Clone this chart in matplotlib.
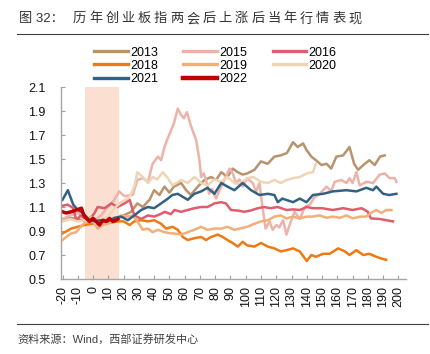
import numpy as np
import matplotlib
matplotlib.use('Agg')
import matplotlib.pyplot as plt
from matplotlib.lines import Line2D

plt.rcParams['font.family'] = ['Liberation Sans', 'Noto Sans CJK SC', 'DejaVu Sans']
plt.rcParams['axes.unicode_minus'] = False

# ---- data: trading days after the NPC sessions vs. relative index level
d2013 = [-20, -15, -10, -5, 0, 5, 10, 14, 20, 25, 29, 32.6, 37, 40, 43.5, 46.8, 50, 53, 57.7, 61, 64, 68.6,
         73, 77.3, 80.6, 84, 88, 91.5, 94.8, 98, 101, 105.7, 110, 114.4, 118.8, 123, 127, 131, 134, 137.6,
         139.8, 143, 146, 149.6, 153, 156, 159.4, 163.8, 168, 171, 173.6, 178, 181, 184.5, 188, 191]
v2013 = [0.99, 1.01, 1.0, 0.98, 1.0, 0.98, 1.0, 0.99, 1.03, 1.06, 1.13, 1.10, 1.16, 1.24, 1.2, 1.27, 1.22,
         1.27, 1.3, 1.24, 1.2, 1.27, 1.325, 1.35, 1.325, 1.39, 1.35, 1.42, 1.39, 1.37, 1.38, 1.41, 1.48, 1.46,
         1.52, 1.53, 1.55, 1.64, 1.6, 1.63, 1.575, 1.52, 1.49, 1.45, 1.46, 1.42, 1.52, 1.53, 1.6, 1.46, 1.41,
         1.46, 1.49, 1.45, 1.52, 1.53]

d2015 = [-20, -15, -10, -5, 1, 5.3, 9.7, 14, 17, 20.6, 26, 29, 32.6, 36, 39, 42.5, 44.6, 46.8, 48.5, 50.5,
         53, 55.5, 57.5, 59.5, 61.5, 64, 67.5, 69.7, 70.8, 72.5, 74, 76, 78, 80.6, 82.8, 86, 89.4, 91.5, 93.7,
         96, 98, 101, 104.6, 106.8, 109, 111, 113, 115.6, 117.7, 120, 122, 124.5, 126.7, 129, 132, 135.4,
         138.7, 142, 145, 148.5, 153, 156, 158.3, 162.7, 166, 168, 170, 172.5, 174.7, 179, 183.4, 187.8, 191,
         194.3, 197.6, 198.7]
v2015 = [1.0, 1.03, 1.05, 1.0, 0.99, 1.03, 1.1, 1.16, 1.23, 1.19, 1.2, 1.325, 1.34, 1.31, 1.46, 1.52, 1.49,
         1.6, 1.66, 1.72, 1.80, 1.92, 1.87, 1.84, 1.89, 1.78, 1.66, 1.49, 1.35, 1.38, 1.325, 1.21, 1.25, 1.17,
         1.24, 1.325, 1.42, 1.38, 1.3, 1.33, 1.27, 1.34, 1.3, 1.23, 1.3, 1.1, 0.92, 0.98, 0.91, 0.95, 0.93, 0.99,
         0.87, 0.96, 1.06, 1.0, 1.1, 1.12, 1.18, 1.21, 1.27, 1.23, 1.31, 1.325, 1.3, 1.34, 1.3, 1.39, 1.28, 1.31,
         1.3, 1.37, 1.38, 1.34, 1.34, 1.31]

d2016 = [-20, -16.5, -13, -11, -8, -3.4, 1, 3, 7.5, 12, 16, 20.6, 24, 27, 31.5, 36, 40, 44, 47, 51, 53.3,
         57.7, 62, 66.4, 70.8, 75, 79.5, 84, 87, 90.4, 95, 99, 103, 108, 112, 116, 121, 126.7, 131, 135.4, 140,
         144, 150, 157, 163.8, 170, 176, 180, 182, 187.8, 192, 196.5]
v2016 = [1.11, 1.12, 1.09, 0.99, 1.03, 0.98, 1.05, 1.1, 1.09, 1.13, 1.1, 1.13, 1.16, 1.03, 1.0, 1.03, 1.02,
         1.04, 1.06, 1.04, 1.075, 1.06, 1.075, 1.09, 1.1, 1.1, 1.13, 1.14, 1.13, 1.075, 1.07, 1.06, 1.07, 1.09,
         1.1, 1.09, 1.1, 1.075, 1.08, 1.075, 1.1, 1.09, 1.09, 1.075, 1.09, 1.075, 1.09, 1.06, 1.005, 1.0, 0.99,
         0.98]

d2018 = [-20, -17, -14.4, -10, -5.6, -1, 3, 7.5, 12, 16.3, 20, 24, 27, 31.5, 36, 40, 44.6, 47.8, 52, 55.5,
         58.8, 62, 66.4, 70.8, 74, 77.3, 81.7, 85, 88, 91.5, 94.8, 98, 101, 105.7, 110, 114.5, 118.8, 123,
         126.7, 131, 135.4, 140, 143, 146, 150.6, 155, 160.5, 165, 168, 172.5, 177, 181, 185.6, 189, 192]
v2018 = [0.88, 0.9, 0.92, 0.935, 0.95, 0.96, 0.96, 0.98, 0.97, 0.98, 0.98, 0.95, 0.98, 0.99, 0.98, 0.99, 0.96,
         0.92, 0.935, 0.91, 0.85, 0.825, 0.84, 0.85, 0.825, 0.85, 0.87, 0.85, 0.825, 0.8, 0.77, 0.81, 0.78, 0.77,
         0.8, 0.77, 0.755, 0.73, 0.74, 0.755, 0.73, 0.65, 0.7, 0.685, 0.71, 0.71, 0.755, 0.73, 0.7, 0.74, 0.7,
         0.71, 0.685, 0.67, 0.66]

d2019 = [-20, -17.6, -14.4, -11, -7.8, -4.5, -1.3, 1, 3, 6.4, 9.7, 14, 18.4, 22.8, 26, 29, 32.6, 36, 39, 42.5,
         46.8, 51, 53, 57.7, 62, 66.4, 70.8, 75, 79.5, 84, 88, 92.6, 96, 101, 105.7, 110, 114.5, 118.8, 123,
         126.7, 131, 135, 140, 144, 148.5, 153, 157, 161.6, 166, 170, 175, 179, 182, 185.6, 189, 192, 195.5]
v2019 = [0.825, 0.85, 0.88, 0.89, 0.94, 0.98, 1.02, 0.96, 0.92, 0.95, 0.96, 0.99, 1.03, 1.02, 1.03, 0.98,
         0.91, 0.92, 0.89, 0.91, 0.89, 0.88, 0.88, 0.87, 0.89, 0.91, 0.935, 0.91, 0.92, 0.92, 0.935, 0.91, 0.92,
         0.935, 0.96, 0.98, 0.99, 1.02, 1.03, 1.005, 1.02, 1.005, 1.02, 1.02, 1.03, 1.01, 1.02, 1.01, 1.03,
         1.005, 1.02, 1.02, 1.05, 1.075, 1.05, 1.075, 1.075]

d2020 = [-20, -15, -10, -5, 0, 3, 9.7, 14, 18.4, 22.8, 25, 27, 29, 32.6, 36, 39, 42, 45.7, 49, 52, 57.7, 62,
         66.4, 70.8, 75, 79.5, 84, 88, 92.6, 96, 101, 105, 110, 114.5, 118.8, 123, 126.7, 131, 135.4, 140, 144,
         146]
v2020 = [0.98, 1.0, 0.98, 0.99, 0.98, 0.96, 1.02, 1.09, 1.14, 1.17, 1.21, 1.27, 1.39, 1.35, 1.3, 1.35, 1.33,
         1.39, 1.34, 1.28, 1.325, 1.3, 1.35, 1.3, 1.28, 1.33, 1.31, 1.35, 1.3, 1.29, 1.34, 1.35, 1.31, 1.3,
         1.325, 1.3, 1.325, 1.34, 1.35, 1.38, 1.39, 1.46]

d2021 = [-20, -16.5, -13, -10, -6.7, -2.3, 1, 5.3, 9.7, 14, 18.4, 22.8, 27, 31.5, 35.9, 40, 44.6, 49, 52,
         55.5, 62, 66.4, 70.8, 75, 79.5, 84, 88, 92.6, 98, 103.5, 109, 114.5, 118.8, 121, 124, 131, 135.4,
         139.8, 144, 150.7, 157, 166, 172.5, 179, 183.4, 185.6, 190, 194, 198.7]
v2021 = [1.16, 1.24, 1.12, 1.075, 1.05, 0.99, 0.98, 0.99, 0.98, 1.01, 1.02, 0.99, 1.03, 1.075, 1.1, 1.09,
         1.13, 1.17, 1.2, 1.21, 1.16, 1.21, 1.23, 1.26, 1.21, 1.30, 1.27, 1.24, 1.30, 1.24, 1.2, 1.21, 1.2, 1.14,
         1.17, 1.14, 1.17, 1.14, 1.2, 1.21, 1.23, 1.24, 1.23, 1.26, 1.24, 1.27, 1.21, 1.2, 1.21]

d2022 = [-20, -17.6, -14.4, -11, -7.6, -6, -4, -2.3, 0, 2, 4.2, 6.4, 8.5, 10.8, 13, 15, 16.2]
v2022 = [1.06, 1.05, 1.06, 1.075, 1.09, 1.03, 1.0, 0.98, 1.005, 0.98, 0.95, 0.99, 0.98, 1.005, 0.98, 0.99, 1.0]

years = ['2013', '2015', '2016', '2018', '2019', '2020', '2021', '2022']
days = [d2013, d2015, d2016, d2018, d2019, d2020, d2021, d2022]
vals = [v2013, v2015, v2016, v2018, v2019, v2020, v2021, v2022]
colors = ['#B8936D', '#EDB3A8', '#E05C6C', '#F07A12', '#F4AE7A', '#EFD4B6', '#336184', '#C00000']
span_days = (-5, 17)

title_head = '图 32：'
title_body = '历年创业板指两会后上涨后当年行情表现'
source = '资料来源：Wind，西部证券研发中心'

W, H = 431, 354
fig = plt.figure(figsize=(W / 100, H / 100), dpi=100)
ax = fig.add_axes([61 / W, 1 - 279 / H, (406 - 61) / W, (279 - 87) / H])

ax.axvspan(span_days[0], span_days[1], color='#FBE0D1', lw=0, zorder=0)

handles = {}
for yr, d, v, c in zip(years, days, vals, colors):
    lw = 2.5 if yr == '2022' else 1.8
    handles[yr], = ax.plot(d, v, color=c, lw=lw, label=yr, zorder=2)

ax.set_xlim(-21, 205)
ax.set_ylim(0.5, 2.1)
ax.set_xticks(np.arange(-20, 201, 10))
ax.set_xticklabels([str(t) for t in range(-20, 201, 10)], rotation=90)
ax.set_yticks(np.arange(0.5, 2.11, 0.2))
ax.set_yticklabels(['%.1f' % t for t in np.arange(0.5, 2.11, 0.2)])
ax.tick_params(direction='in', length=3, color='#A0A0A0', labelsize=9, labelcolor='#111111')
ax.tick_params(axis='y', pad=11)
ax.tick_params(axis='x', pad=5)
for s in ['top', 'right']:
    ax.spines[s].set_visible(False)
for s in ['left', 'bottom']:
    ax.spines[s].set_color('#A6A6A6')
    ax.spines[s].set_linewidth(1.0)

order = ['2013', '2018', '2021', '2015', '2019', '2022', '2016', '2020']
leg = ax.legend([handles[k] for k in order], order, ncol=3, loc='upper left',
                bbox_to_anchor=(94 / W, 1 - 46.5 / H), bbox_transform=fig.transFigure,
                frameon=False, fontsize=9, handlelength=2.7, handletextpad=0.2,
                columnspacing=2.0, labelspacing=0.1, borderpad=0, borderaxespad=0)
for h in leg.legend_handles:
    h.set_linewidth(3.2 if h.get_color() == '#C00000' else 2.4)

# title, letter-spaced like the original
fig.text(19 / W, 1 - 19 / H, title_head, fontsize=9.5, va='center', color='#333333')
for i, ch in enumerate(title_body):
    fig.text((73 + i * 16.2) / W, 1 - 19 / H, ch, fontsize=9.5, va='center', color='#333333')

fig.add_artist(Line2D([17 / W, 428 / W], [1 - 34 / H] * 2, color='#404040', lw=0.8))
fig.add_artist(Line2D([17 / W, 428 / W], [1 - 324 / H] * 2, color='#404040', lw=0.8))
fig.text(17 / W, 1 - 339 / H, source, fontsize=8, va='center', color='#404040')

fig.savefig('out.png', dpi=100)
